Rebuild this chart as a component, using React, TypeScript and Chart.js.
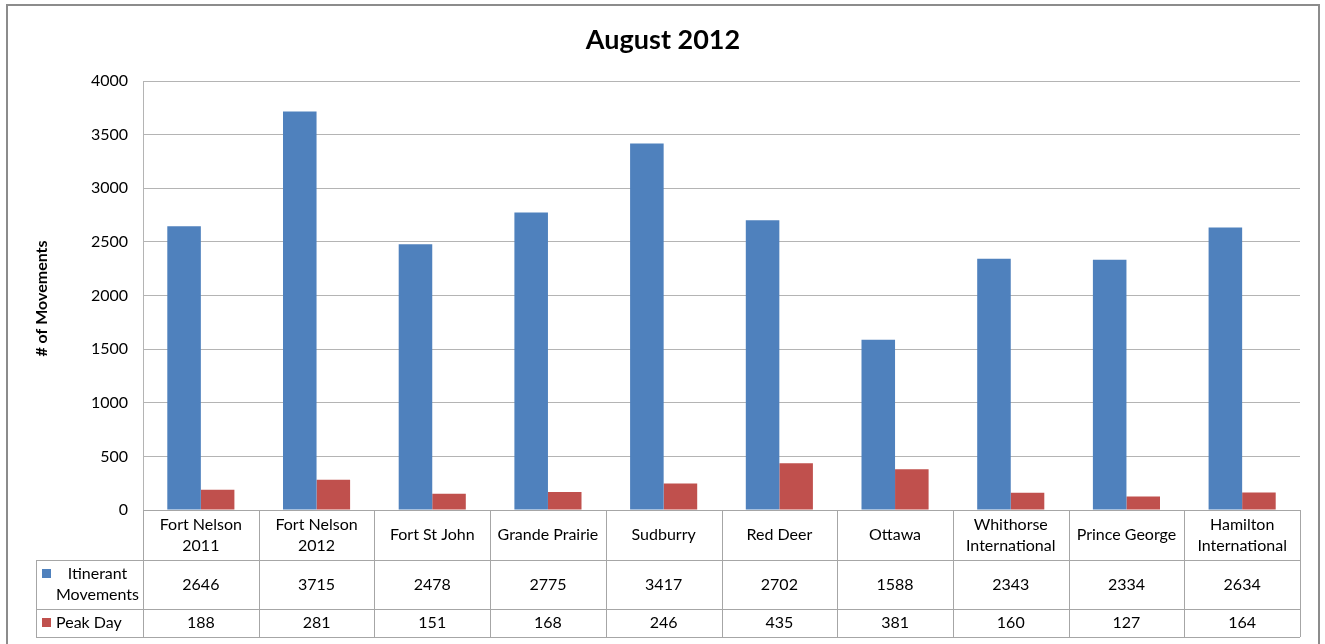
import React, { useEffect, useRef } from "react";
import { Chart, registerables } from "chart.js";

Chart.register(...registerables);

const TITLE = "August 2012";
const Y_TITLE = "# of Movements";
const categories: string[][] = [
  ["Fort Nelson", "2011"],
  ["Fort Nelson", "2012"],
  ["Fort St John"],
  ["Grande Prairie"],
  ["Sudburry"],
  ["Red Deer"],
  ["Ottawa"],
  ["Whithorse", "International"],
  ["Prince George"],
  ["Hamilton", "International"],
];
const seriesLabels: string[][] = [["Itinerant", "Movements"], ["Peak Day"]];
const itinerant = [2646, 3715, 2478, 2775, 3417, 2702, 1588, 2343, 2334, 2634];
const peakDay = [188, 281, 151, 168, 246, 435, 381, 160, 127, 164];
const Y_MIN = 0;
const Y_MAX = 4000;
const Y_STEP = 500;

const BLUE = "#4F81BD";
const RED = "#C0504D";
const FONT = "Lato, 'Noto Sans', sans-serif";
const GRID = "#b4b4b4";
const TABLE_LINE = "#a6a6a6";

const W = 1325;
const H = 644;

const decorPlugin = {
  id: "decor",
  beforeDraw(chart: any) {
    const ctx = chart.ctx;
    ctx.save();
    ctx.fillStyle = "#ffffff";
    ctx.fillRect(0, 0, W, H);
    ctx.strokeStyle = "#8c8c8c";
    ctx.lineWidth = 2;
    ctx.strokeRect(7, 5, 1312, 700);
    ctx.restore();
  },
  afterDraw(chart: any) {
    const ctx = chart.ctx;
    const area = chart.chartArea;
    const xs = chart.scales.x;
    const n = categories.length;
    const colW = (area.right - area.left) / n;
    ctx.save();

    // Title
    ctx.fillStyle = "#000";
    ctx.font = `bold 27px ${FONT}`;
    ctx.textAlign = "center";
    ctx.textBaseline = "middle";
    ctx.fillText(TITLE, 663, 40);

    // Y title
    ctx.save();
    ctx.translate(42, (area.top + area.bottom) / 2 + 3);
    ctx.rotate(-Math.PI / 2);
    ctx.font = `bold 16px ${FONT}`;
    ctx.fillText(Y_TITLE, 0, 0);
    ctx.restore();

    // Table
    const top = area.bottom;
    const r1 = top + 50;
    const r2 = r1 + 49;
    const r3 = r2 + 28;
    const tableLeft = 36;
    ctx.strokeStyle = TABLE_LINE;
    ctx.lineWidth = 1;
    const hline = (x1: number, x2: number, y: number) => {
      ctx.beginPath();
      ctx.moveTo(x1, Math.round(y) + 0.5);
      ctx.lineTo(x2, Math.round(y) + 0.5);
      ctx.stroke();
    };
    const vline = (x: number, y1: number, y2: number) => {
      ctx.beginPath();
      ctx.moveTo(Math.round(x) + 0.5, y1);
      ctx.lineTo(Math.round(x) + 0.5, y2);
      ctx.stroke();
    };
    hline(area.left, area.right, top);
    hline(tableLeft, area.right, r1);
    hline(tableLeft, area.right, r2);
    hline(tableLeft, area.right, r3);
    vline(tableLeft, r1, r3);
    for (let i = 0; i <= n; i++) {
      vline(area.left + i * colW, top, r3);
    }

    ctx.fillStyle = "#000";
    ctx.font = `16px ${FONT}`;
    ctx.textAlign = "center";
    ctx.textBaseline = "middle";
    for (let i = 0; i < n; i++) {
      const cx = xs.getPixelForValue(i);
      const lines = categories[i];
      const lh = 21;
      const startY = (top + r1) / 2 - ((lines.length - 1) * lh) / 2;
      lines.forEach((ln, k) => ctx.fillText(ln, cx, startY + k * lh));
      ctx.fillText(String(itinerant[i]), cx, (r1 + r2) / 2);
      ctx.fillText(String(peakDay[i]), cx, (r2 + r3) / 2);
    }

    // Legend column
    const colors = [BLUE, RED];
    const rows = [
      [r1, r2],
      [r2, r3],
    ];
    seriesLabels.forEach((lines, s) => {
      const [y1, y2] = rows[s];
      const lh = 21;
      const mid = (y1 + y2) / 2;
      const startY = mid - ((lines.length - 1) * lh) / 2;
      ctx.fillStyle = colors[s];
      ctx.fillRect(42, startY - 5, 9, 9);
      ctx.fillStyle = "#000";
      if (lines.length > 1) {
        ctx.textAlign = "center";
        lines.forEach((ln, k) => ctx.fillText(ln, 97.5, startY + k * lh));
      } else {
        ctx.textAlign = "left";
        ctx.fillText(lines[0], 56, startY);
      }
    });
    ctx.restore();
  },
};

export default function App() {
  const ref = useRef<HTMLCanvasElement | null>(null);
  useEffect(() => {
    document.body.style.margin = "0";
    const canvas = ref.current!;
    const chart = new Chart(canvas, {
      type: "bar",
      data: {
        labels: categories.map((c) => c.join(" ")),
        datasets: [
          {
            label: seriesLabels[0].join(" "),
            data: itinerant,
            backgroundColor: BLUE,
            borderWidth: 0,
            categoryPercentage: 0.58,
            barPercentage: 1.0,
          },
          {
            label: seriesLabels[1].join(" "),
            data: peakDay,
            backgroundColor: RED,
            borderWidth: 0,
            categoryPercentage: 0.58,
            barPercentage: 1.0,
          },
        ],
      },
      options: {
        responsive: false,
        animation: false,
        devicePixelRatio: 1,
        layout: { padding: { top: 81, bottom: 134, left: 0, right: 25 } },
        plugins: {
          legend: { display: false },
          title: { display: false },
          tooltip: { enabled: false },
        },
        scales: {
          x: { display: false, offset: true },
          y: {
            min: Y_MIN,
            max: Y_MAX,
            ticks: {
              stepSize: Y_STEP,
              padding: 15,
              color: "#000",
              font: { family: FONT, size: 16 },
              callback: (v: any) => String(v),
            },
            grid: { color: GRID, drawTicks: false },
            border: { color: GRID },
            afterFit: (scale: any) => {
              scale.width = 143;
            },
          },
        },
      },
      plugins: [decorPlugin],
    });
    return () => chart.destroy();
  }, []);
  return (
    <div style={{ position: "fixed", left: 0, top: 0, width: W, height: H }}>
      <canvas ref={ref} width={W} height={H} style={{ width: W, height: H, display: "block" }} />
    </div>
  );
}
